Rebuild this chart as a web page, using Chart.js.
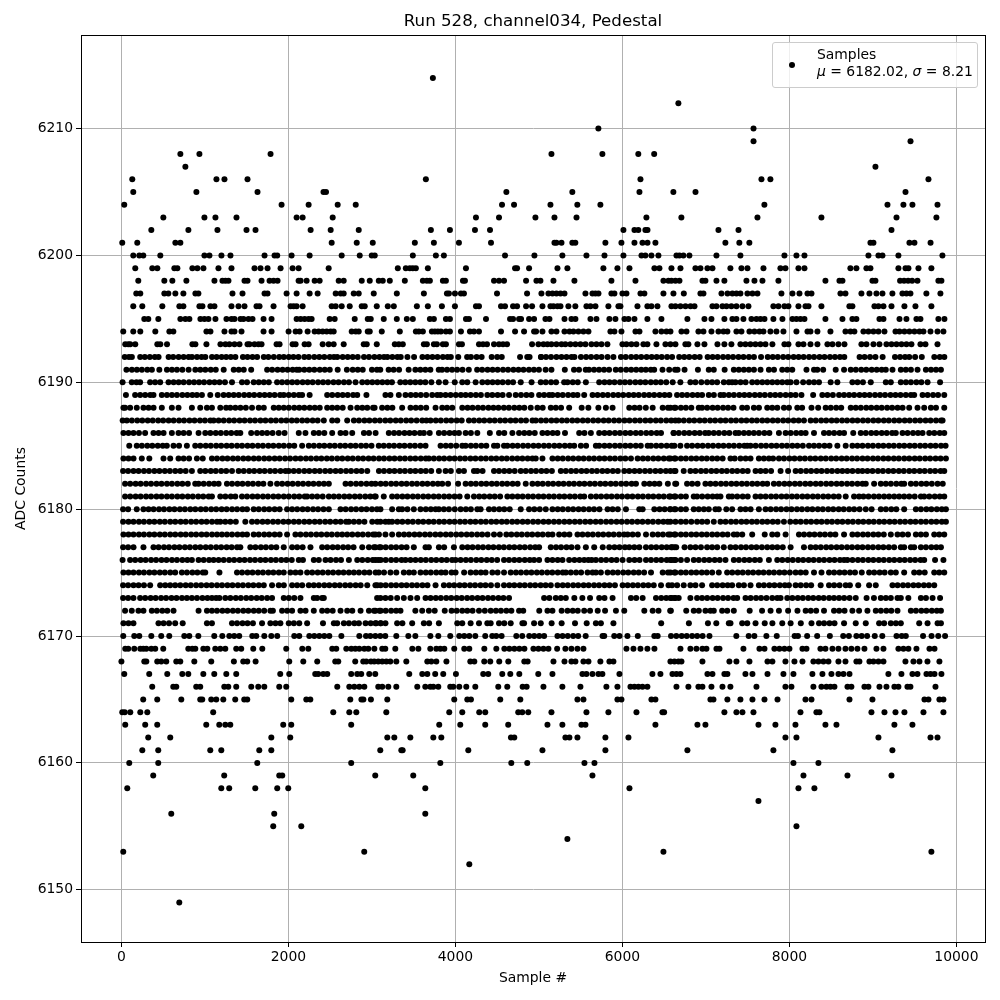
<!DOCTYPE html>
<html>
<head>
<meta charset="utf-8">
<script src="https://cdn.jsdelivr.net/npm/chart.js@4"></script>
<style>
  html, body { margin: 0; padding: 0; background: #fff; }
  #wrap { position: relative; width: 1000px; height: 1000px; }
  #legend {
    position: absolute; left: 772px; top: 42px; width: 206px; height: 46px; box-sizing: border-box;
    background: rgba(255,255,255,0.8); border: 1px solid #ccc; border-radius: 3px;
    font: 13.9px "DejaVu Sans", sans-serif; color: #000; line-height: 17px;
  }
  #legend .dot { position: absolute; left: 16px; top: 19px; width: 6px; height: 6px; border-radius: 50%; background: #000; }
  #legend .txt { position: absolute; left: 44px; top: 3px; white-space: nowrap; }
</style>
</head>
<body>
<div id="wrap">
  <canvas id="chart" width="1000" height="1000"></canvas>
  <div id="legend"><span class="dot"></span><div class="txt">Samples<br><i>μ</i> = 6182.02, <i>σ</i> = 8.21</div></div>
</div>
<script>
const xTicks = [0, 2000, 4000, 6000, 8000, 10000];
const yTicks = [6150, 6160, 6170, 6180, 6190, 6200, 6210];

// sample numbers, one list per ADC level
const r6214 = [3730];
const r6212 = [6670];
const r6210 = [5712, 7570];
const r6209 = [7570, 9450];
const r6208 = [706, 934, 1786, 5150, 5760, 6190, 6380];
const r6207 = [766, 9030];
const r6206 = [130, 1138, 1234, 1510, 3646, 6216, 7665, 7772, 9665];
const r6205 = [142, 898, 1630, 2420, 2450, 4610, 5400, 6204, 6610, 6875, 9390];
const r6204 = [34, 1918, 2242, 2590, 2806, 4558, 4702, 5138, 5460, 5736, 7700, 9174, 9365, 9473, 9773];
const r6203 = [502, 994, 1126, 1378, 2098, 2170, 2530, 4246, 4522, 4958, 5186, 5450, 6287, 6706, 7617, 8383, 9282, 9760];
const r6202 = [358, 802, 1150, 1498, 1606, 2266, 2506, 2842, 3706, 3934, 4234, 4414, 6012, 6144, 6190, 6275, 6300, 7150, 7390, 9222];
const r6201 = [10, 190, 646, 706, 2518, 2818, 3010, 3514, 3742, 4042, 4426, 5186, 5210, 5270, 5400, 5436, 5796, 5988, 6144, 6240, 6300, 6395, 7233, 7400, 7520, 8970, 9006, 9437, 9497, 9690];
const r6200 = [142, 214, 262, 466, 994, 1054, 1198, 1306, 1714, 1834, 1866, 2038, 2254, 2638, 2854, 2998, 3034, 3490, 3766, 3862, 4594, 4946, 5281, 5569, 5785, 6012, 6228, 6275, 6347, 6431, 6647, 6683, 6730, 6802, 7126, 7413, 7940, 8084, 8180, 8946, 9066, 9114, 9305, 9832];
const r6199 = [166, 370, 430, 634, 670, 850, 910, 982, 1162, 1318, 1594, 1666, 1750, 1906, 2050, 2122, 2482, 3310, 3406, 3454, 3490, 3526, 3670, 4126, 4714, 4738, 4882, 5222, 5341, 5772, 5940, 6084, 6383, 6443, 6587, 6695, 6874, 6934, 7018, 7078, 7293, 7425, 7497, 7689, 7892, 7952, 8108, 8180, 8730, 8802, 8922, 8970, 9305, 9390, 9425, 9545, 9700];
const r6198 = [202, 514, 610, 778, 1114, 1210, 1246, 1282, 1474, 1510, 1678, 1774, 1822, 1870, 2122, 2146, 2218, 2314, 2374, 2602, 2662, 2878, 2974, 3082, 3130, 3214, 3394, 3610, 3658, 3694, 3850, 3886, 4090, 4114, 4462, 4522, 4582, 4846, 4970, 5018, 5174, 5425, 5868, 6156, 6491, 6551, 6587, 6635, 6683, 6958, 6994, 7126, 7221, 7485, 7581, 7677, 7868, 8431, 8599, 8635, 8994, 9030, 9325, 9373, 9421, 9469, 9533, 9784, 9820];
const r6197 = [178, 226, 514, 562, 646, 742, 886, 922, 1330, 1450, 1714, 1750, 1978, 2098, 2254, 2350, 2566, 2626, 2662, 2782, 2842, 3022, 3298, 3622, 3898, 3922, 3994, 4066, 4102, 4498, 4858, 5030, 5114, 5162, 5210, 5258, 5306, 5557, 5641, 5677, 5713, 5868, 5904, 6000, 6048, 6216, 6263, 6491, 6611, 6735, 6934, 6970, 7186, 7258, 7317, 7365, 7413, 7497, 7557, 7617, 7904, 8036, 8120, 8216, 8264, 8611, 8671, 8862, 8958, 9042, 9114, 9233, 9353, 9401, 9449, 9640, 9808];
const r6196 = [142, 250, 490, 694, 742, 934, 970, 1066, 1114, 1318, 1402, 1474, 1618, 1654, 1822, 2026, 2062, 2098, 2170, 2518, 2566, 2638, 2734, 2878, 2914, 3058, 3190, 3262, 3538, 3670, 3838, 3994, 4246, 4282, 4546, 4594, 4690, 4738, 4846, 4918, 5042, 5138, 5174, 5222, 5258, 5353, 5436, 5569, 5617, 5677, 5832, 5952, 5976, 6180, 6299, 6347, 6419, 6587, 6635, 6695, 6755, 6815, 6863, 7078, 7126, 7198, 7246, 7305, 7365, 7437, 7509, 7808, 7868, 7940, 7988, 8108, 8192, 8228, 8383, 8718, 8754, 9018, 9066, 9126, 9222, 9377, 9509, 9700];
const r6195 = [274, 322, 442, 706, 766, 814, 946, 994, 1042, 1126, 1258, 1318, 1354, 1426, 1462, 1522, 1570, 1702, 1798, 2098, 2146, 2194, 2242, 2278, 2494, 2554, 2794, 2950, 2986, 3142, 3298, 3418, 3490, 3694, 3742, 3886, 3934, 4126, 4162, 4366, 4654, 4690, 4762, 4786, 4882, 4942, 5078, 5126, 5306, 5389, 5437, 5617, 5689, 5844, 5916, 6024, 6072, 6144, 6299, 6467, 6778, 6982, 7066, 7221, 7317, 7365, 7449, 7545, 7605, 7653, 7701, 7808, 7916, 8036, 8084, 8132, 8180, 8431, 8635, 8754, 8802, 9078, 9126, 9318, 9401, 9521, 9569, 9784, 9856];
const r6194 = [22, 142, 226, 406, 574, 622, 1018, 1066, 1234, 1318, 1354, 1438, 1702, 1798, 2002, 2086, 2134, 2230, 2314, 2362, 2410, 2458, 2506, 2542, 2758, 2806, 2842, 2950, 2974, 3118, 3334, 3526, 3562, 3610, 3718, 3754, 3790, 3826, 3886, 3934, 4066, 4174, 4222, 4282, 4546, 4714, 4822, 4942, 4966, 5042, 5150, 5210, 5306, 5366, 5413, 5473, 5533, 5593, 5856, 5904, 5988, 6156, 6204, 6395, 6467, 6527, 6575, 6707, 6767, 6910, 6970, 7066, 7150, 7210, 7257, 7365, 7425, 7521, 7581, 7641, 7689, 7772, 7844, 7928, 8084, 8216, 8252, 8335, 8491, 8671, 8731, 8778, 8886, 8946, 9006, 9066, 9138, 9270, 9318, 9377, 9437, 9497, 9557, 9605, 9689, 9773, 9844];
const r6193 = [46, 82, 106, 166, 430, 466, 546, 850, 886, 1018, 1186, 1246, 1294, 1354, 1414, 1510, 1534, 1594, 1642, 1678, 1858, 1894, 2050, 2086, 2194, 2242, 2410, 2482, 2542, 2662, 2902, 2938, 3058, 3274, 3322, 3370, 3622, 3658, 3742, 3778, 3850, 3886, 4042, 4078, 4282, 4330, 4378, 4462, 4522, 4570, 4618, 4918, 4994, 5054, 5102, 5150, 5210, 5270, 5317, 5377, 5437, 5497, 5557, 5629, 5689, 5749, 5820, 6000, 6048, 6108, 6168, 6251, 6299, 6407, 6515, 6575, 6635, 6754, 6790, 6898, 6982, 7138, 7221, 7305, 7413, 7473, 7533, 7593, 7653, 7713, 7796, 7940, 7988, 8108, 8168, 8252, 8335, 8455, 8515, 8587, 8659, 8862, 8922, 9006, 9078, 9162, 9222, 9282, 9342, 9401, 9461, 9569, 9629, 9773];
const r6192 = [40, 90, 125, 225, 280, 340, 400, 445, 565, 620, 685, 745, 805, 845, 905, 960, 1005, 1085, 1140, 1200, 1255, 1310, 1365, 1455, 1510, 1570, 1625, 1705, 1760, 1825, 1890, 1945, 2005, 2060, 2120, 2190, 2245, 2310, 2370, 2430, 2495, 2545, 2585, 2650, 2710, 2770, 2830, 2905, 2965, 3030, 3090, 3145, 3185, 3245, 3305, 3345, 3425, 3505, 3605, 3665, 3725, 3785, 3850, 3905, 3945, 4034, 4140, 4186, 4254, 4314, 4434, 4500, 4555, 4774, 4860, 4888, 5026, 5024, 5085, 5145, 5210, 5270, 5330, 5390, 5425, 5503, 5565, 5625, 5690, 5750, 5822, 5892, 5982, 6040, 6105, 6165, 6225, 6290, 6350, 6410, 6470, 6535, 6595, 6680, 6740, 6800, 6865, 6925, 7020, 7080, 7140, 7205, 7265, 7325, 7390, 7450, 7515, 7575, 7660, 7740, 7800, 7860, 7925, 7985, 8050, 8110, 8170, 8235, 8295, 8360, 8420, 8485, 8545, 8605, 8657, 8840, 8900, 8965, 9030, 9116, 9264, 9325, 9385, 9435, 9505, 9585, 9735, 9800, 9855];
const r6191 = [60, 125, 185, 245, 310, 365, 454, 545, 605, 665, 730, 805, 885, 945, 1005, 1070, 1130, 1225, 1345, 1405, 1465, 1554, 1745, 1805, 1870, 1930, 1990, 2050, 2100, 2130, 2190, 2250, 2310, 2375, 2435, 2495, 2590, 2700, 2770, 2830, 2890, 3000, 3060, 3100, 3200, 3260, 3325, 3440, 3520, 3580, 3640, 3700, 3800, 3840, 3900, 3960, 4020, 4085, 4160, 4260, 4320, 4385, 4445, 4505, 4570, 4630, 4695, 4755, 4815, 4880, 4940, 5000, 5080, 5150, 5310, 5420, 5480, 5560, 5600, 5660, 5720, 5780, 5840, 5920, 5980, 6045, 6105, 6165, 6225, 6280, 6340, 6380, 6480, 6560, 6630, 6660, 6744, 6904, 7034, 7094, 7224, 7334, 7394, 7454, 7514, 7575, 7654, 7754, 7815, 7914, 7974, 8034, 8204, 8294, 8334, 8404, 8554, 8654, 8734, 8795, 8860, 8920, 8985, 9045, 9105, 9154, 9234, 9334, 9394, 9455, 9534, 9634, 9695, 9755, 9814];
const r6190 = [14, 124, 180, 224, 344, 404, 464, 564, 625, 685, 745, 810, 870, 930, 990, 1055, 1115, 1175, 1240, 1324, 1444, 1504, 1584, 1645, 1705, 1765, 1864, 1924, 1985, 2045, 2105, 2170, 2230, 2290, 2355, 2415, 2475, 2540, 2600, 2665, 2725, 2804, 2884, 2945, 3005, 3065, 3125, 3185, 3240, 3340, 3400, 3460, 3520, 3580, 3640, 3712, 3802, 3882, 3992, 4082, 4142, 4242, 4322, 4385, 4445, 4505, 4565, 4630, 4690, 4782, 4912, 5022, 5082, 5145, 5205, 5302, 5342, 5405, 5465, 5562, 5722, 5785, 5845, 5905, 5970, 6030, 6090, 6155, 6215, 6275, 6340, 6400, 6460, 6525, 6602, 6694, 6814, 6874, 6945, 7014, 7074, 7134, 7214, 7274, 7314, 7354, 7415, 7475, 7554, 7614, 7675, 7735, 7795, 7855, 7914, 7974, 8014, 8084, 8164, 8234, 8295, 8354, 8494, 8574, 8754, 8815, 8880, 8974, 9154, 9214, 9334, 9395, 9455, 9520, 9580, 9654, 9804];
const r6189 = [54, 164, 225, 285, 345, 384, 484, 545, 605, 665, 730, 790, 850, 904, 964, 1064, 1154, 1224, 1285, 1345, 1405, 1470, 1530, 1590, 1655, 1715, 1775, 1835, 1900, 1944, 2004, 2065, 2125, 2164, 2254, 2464, 2525, 2590, 2650, 2710, 2775, 2824, 2934, 3162, 3222, 3322, 3402, 3465, 3525, 3585, 3650, 3722, 3782, 3822, 3882, 3942, 4005, 4065, 4122, 4182, 4245, 4305, 4382, 4442, 4505, 4565, 4642, 4722, 4785, 4850, 4910, 5002, 5062, 5122, 5162, 5225, 5285, 5350, 5410, 5462, 5542, 5642, 5702, 5765, 5825, 5890, 5950, 6010, 6075, 6135, 6195, 6260, 6320, 6380, 6445, 6505, 6562, 6654, 6715, 6775, 6840, 6900, 6954, 7034, 7095, 7174, 7214, 7275, 7335, 7400, 7460, 7520, 7585, 7645, 7705, 7770, 7830, 7890, 7955, 8015, 8074, 8144, 8284, 8394, 8455, 8520, 8594, 8654, 8715, 8775, 8840, 8900, 8960, 9025, 9085, 9145, 9210, 9270, 9330, 9394, 9454, 9494, 9594, 9655, 9720, 9780, 9854];
const r6188 = [24, 44, 104, 184, 264, 325, 385, 484, 604, 684, 844, 944, 1024, 1084, 1184, 1254, 1304, 1365, 1425, 1490, 1564, 1644, 1705, 1824, 1884, 1945, 2005, 2070, 2130, 2190, 2255, 2315, 2375, 2464, 2524, 2585, 2650, 2744, 2824, 2885, 2944, 3014, 3032, 3122, 3185, 3245, 3362, 3462, 3525, 3585, 3650, 3762, 3842, 3900, 3962, 4082, 4145, 4205, 4270, 4330, 4395, 4455, 4515, 4580, 4640, 4705, 4765, 4825, 4902, 4982, 5045, 5142, 5202, 5265, 5362, 5512, 5592, 5712, 5802, 5882, 6082, 6145, 6205, 6280, 6362, 6482, 6545, 6622, 6574, 6635, 6700, 6760, 6825, 6914, 6954, 7015, 7080, 7140, 7205, 7265, 7330, 7434, 7492, 7574, 7635, 7734, 7794, 7855, 7934, 7994, 8094, 8152, 8264, 8344, 8434, 8495, 8560, 8620, 8734, 8794, 8855, 8920, 8980, 9045, 9105, 9170, 9230, 9295, 9355, 9434, 9534, 9614, 9694, 9755, 9854];
const r6187 = [15, 65, 125, 190, 250, 315, 375, 440, 500, 565, 625, 690, 750, 815, 875, 940, 1000, 1065, 1104, 1164, 1225, 1290, 1350, 1415, 1475, 1540, 1600, 1665, 1725, 1790, 1850, 1915, 1975, 2040, 2100, 2165, 2225, 2290, 2350, 2424, 2524, 2585, 2704, 2784, 2845, 2910, 2970, 3035, 3095, 3160, 3220, 3285, 3345, 3410, 3470, 3535, 3602, 3652, 3702, 3765, 3825, 3890, 3950, 4015, 4075, 4162, 4222, 4285, 4345, 4410, 4470, 4535, 4595, 4660, 4720, 4785, 4845, 4922, 4962, 5025, 5085, 5150, 5210, 5275, 5335, 5400, 5460, 5525, 5585, 5650, 5710, 5775, 5835, 5900, 5960, 6025, 6085, 6150, 6210, 6275, 6335, 6400, 6460, 6525, 6585, 6634, 6674, 6735, 6800, 6860, 6925, 6985, 7050, 7110, 7175, 7235, 7300, 7360, 7425, 7485, 7550, 7610, 7675, 7735, 7800, 7860, 7925, 7985, 8050, 8110, 8174, 8254, 8315, 8380, 8440, 8505, 8565, 8630, 8690, 8755, 8815, 8880, 8940, 9005, 9065, 9130, 9190, 9255, 9315, 9380, 9440, 9505, 9565, 9630, 9690, 9755, 9815, 9834];
const r6186 = [24, 85, 145, 210, 284, 384, 445, 505, 604, 684, 745, 810, 924, 1004, 1065, 1130, 1190, 1255, 1315, 1380, 1424, 1554, 1624, 1685, 1745, 1810, 1884, 1954, 2124, 2204, 2304, 2365, 2430, 2524, 2624, 2685, 2764, 2904, 2965, 3044, 3202, 3265, 3325, 3390, 3450, 3510, 3575, 3622, 3692, 3802, 3865, 3930, 3990, 4042, 4122, 4185, 4262, 4412, 4522, 4585, 4682, 4762, 4825, 4885, 4950, 5042, 5102, 5165, 5222, 5312, 5482, 5545, 5622, 5722, 5785, 5845, 5910, 5970, 6035, 6095, 6160, 6220, 6285, 6345, 6410, 6462, 6612, 6614, 6675, 6740, 6800, 6865, 6925, 6990, 7034, 7094, 7155, 7220, 7280, 7354, 7394, 7455, 7514, 7574, 7635, 7700, 7760, 7874, 7954, 8015, 8080, 8140, 8194, 8294, 8414, 8474, 8535, 8600, 8654, 8764, 8854, 8915, 8980, 9040, 9105, 9165, 9230, 9274, 9354, 9415, 9480, 9540, 9594, 9674, 9735, 9800, 9854];
const r6185 = [94, 184, 245, 310, 370, 435, 495, 544, 624, 690, 784, 884, 945, 1010, 1070, 1135, 1195, 1260, 1320, 1385, 1445, 1510, 1570, 1635, 1695, 1760, 1820, 1885, 1945, 2010, 2070, 2164, 2244, 2305, 2370, 2430, 2495, 2555, 2620, 2680, 2745, 2805, 2870, 2930, 2995, 3082, 3142, 3205, 3265, 3330, 3390, 3455, 3515, 3580, 3642, 3822, 3885, 3945, 4010, 4082, 4122, 4185, 4245, 4310, 4370, 4462, 4502, 4582, 4622, 4685, 4745, 4810, 4870, 4935, 4995, 5060, 5120, 5185, 5245, 5310, 5370, 5422, 5502, 5565, 5682, 5722, 5785, 5845, 5910, 5970, 6035, 6095, 6160, 6220, 6302, 6342, 6405, 6465, 6530, 6590, 6622, 6694, 6774, 6835, 6900, 6960, 7025, 7085, 7150, 7210, 7275, 7335, 7400, 7460, 7494, 7534, 7595, 7660, 7720, 7785, 7845, 7910, 7970, 8035, 8095, 8160, 8234, 8294, 8355, 8420, 8480, 8574, 8674, 8754, 8814, 8875, 8940, 9000, 9065, 9125, 9190, 9250, 9315, 9375, 9440, 9500, 9565, 9625, 9690, 9750, 9815, 9870];
const r6184 = [24, 85, 145, 244, 334, 504, 584, 684, 745, 810, 904, 974, 1084, 1145, 1210, 1270, 1335, 1395, 1460, 1520, 1585, 1645, 1710, 1770, 1835, 1895, 1960, 2020, 2085, 2145, 2210, 2270, 2335, 2395, 2460, 2520, 2585, 2645, 2710, 2770, 2835, 2895, 2960, 3020, 3085, 3145, 3210, 3270, 3335, 3395, 3460, 3520, 3585, 3645, 3682, 3742, 3805, 3865, 3930, 3990, 4055, 4115, 4180, 4240, 4305, 4365, 4430, 4490, 4555, 4615, 4680, 4742, 4802, 4865, 4922, 4962, 5042, 5162, 5225, 5285, 5350, 5410, 5475, 5535, 5600, 5660, 5725, 5785, 5850, 5910, 5975, 6035, 6102, 6182, 6245, 6305, 6370, 6430, 6495, 6555, 6622, 6574, 6635, 6700, 6760, 6825, 6885, 6950, 7010, 7075, 7135, 7200, 7294, 7344, 7414, 7475, 7534, 7634, 7694, 7754, 7804, 7874, 7935, 8000, 8060, 8125, 8185, 8250, 8310, 8375, 8435, 8500, 8560, 8625, 8685, 8750, 8810, 8875, 8935, 9000, 9060, 9125, 9185, 9250, 9310, 9375, 9435, 9500, 9560, 9625, 9685, 9750, 9810, 9874];
const r6183 = [20, 80, 145, 205, 270, 330, 395, 455, 520, 580, 645, 705, 770, 844, 944, 1005, 1070, 1130, 1195, 1255, 1324, 1404, 1465, 1530, 1590, 1655, 1715, 1780, 1840, 1905, 1965, 2004, 2064, 2125, 2190, 2250, 2315, 2375, 2440, 2500, 2565, 2625, 2690, 2750, 2815, 2875, 2944, 3084, 3145, 3210, 3270, 3335, 3395, 3460, 3520, 3585, 3645, 3710, 3802, 3882, 3945, 4042, 4102, 4222, 4262, 4325, 4462, 4522, 4585, 4645, 4710, 4782, 4842, 4905, 4965, 5030, 5090, 5155, 5262, 5322, 5385, 5445, 5510, 5570, 5635, 5695, 5760, 5820, 5885, 5945, 6022, 6082, 6145, 6205, 6270, 6330, 6395, 6455, 6520, 6622, 6574, 6635, 6734, 6814, 6875, 6940, 7000, 7065, 7125, 7190, 7250, 7315, 7375, 7440, 7500, 7594, 7654, 7715, 7780, 7894, 7984, 8074, 8135, 8200, 8260, 8325, 8385, 8450, 8510, 8575, 8634, 8694, 8755, 8820, 8874, 8934, 8995, 9060, 9120, 9185, 9245, 9310, 9370, 9435, 9495, 9560, 9620, 9685, 9745, 9810, 9854];
const r6182 = [44, 105, 170, 230, 295, 355, 420, 480, 545, 605, 670, 730, 795, 884, 924, 985, 1050, 1110, 1164, 1264, 1325, 1390, 1450, 1515, 1575, 1640, 1700, 1784, 1864, 1925, 1990, 2050, 2115, 2175, 2240, 2300, 2365, 2425, 2484, 2684, 2745, 2810, 2870, 2935, 2995, 3042, 3105, 3165, 3230, 3290, 3355, 3415, 3480, 3540, 3605, 3665, 3730, 3790, 3842, 3912, 4032, 4122, 4185, 4245, 4310, 4370, 4435, 4495, 4560, 4620, 4685, 4745, 4842, 4922, 4985, 5045, 5110, 5170, 5235, 5295, 5360, 5420, 5485, 5545, 5610, 5670, 5735, 5795, 5860, 5920, 5985, 6045, 6110, 6162, 6262, 6325, 6385, 6442, 6544, 6632, 6644, 6774, 6835, 6900, 6994, 7054, 7115, 7180, 7240, 7305, 7365, 7430, 7490, 7555, 7615, 7680, 7734, 7814, 7875, 7940, 8000, 8065, 8125, 8190, 8250, 8315, 8375, 8440, 8500, 8565, 8625, 8690, 8750, 8815, 8875, 8914, 9014, 9094, 9154, 9215, 9280, 9340, 9374, 9454, 9515, 9580, 9640, 9705, 9774, 9836];
const r6181 = [44, 105, 170, 230, 295, 355, 420, 480, 545, 605, 670, 730, 795, 855, 920, 980, 1045, 1084, 1184, 1245, 1310, 1364, 1444, 1505, 1570, 1630, 1695, 1755, 1820, 1880, 1945, 2005, 2070, 2130, 2195, 2224, 2284, 2345, 2410, 2484, 2544, 2605, 2670, 2730, 2795, 2855, 2920, 2980, 3045, 3032, 3142, 3242, 3302, 3365, 3425, 3490, 3550, 3615, 3675, 3740, 3800, 3865, 3925, 3990, 4050, 4142, 4222, 4285, 4345, 4410, 4470, 4535, 4622, 4682, 4745, 4805, 4870, 4930, 4995, 5055, 5120, 5180, 5245, 5305, 5370, 5430, 5495, 5542, 5622, 5685, 5745, 5810, 5870, 5935, 5995, 6060, 6120, 6185, 6245, 6310, 6370, 6435, 6495, 6560, 6622, 6574, 6635, 6700, 6760, 6854, 6894, 6955, 7020, 7080, 7134, 7174, 7274, 7314, 7375, 7440, 7500, 7594, 7654, 7715, 7780, 7840, 7905, 7965, 8030, 8090, 8155, 8215, 8280, 8340, 8405, 8465, 8530, 8590, 8674, 8774, 8834, 8886, 8947, 9012, 9072, 9134, 9194, 9255, 9314, 9374, 9435, 9500, 9574, 9614, 9675, 9740, 9800, 9854];
const r6180 = [20, 80, 184, 264, 325, 385, 450, 510, 575, 635, 700, 760, 825, 885, 950, 1010, 1075, 1135, 1200, 1260, 1325, 1385, 1450, 1504, 1584, 1645, 1710, 1770, 1835, 1895, 1984, 2044, 2105, 2170, 2230, 2295, 2355, 2420, 2484, 2624, 2685, 2750, 2810, 2875, 2935, 3000, 3060, 3102, 3242, 3322, 3362, 3425, 3502, 3582, 3645, 3705, 3762, 3802, 3862, 3922, 3992, 4062, 4125, 4185, 4262, 4302, 4402, 4462, 4525, 4585, 4650, 4782, 4882, 4945, 5010, 5082, 5162, 5225, 5285, 5350, 5410, 5475, 5535, 5600, 5660, 5725, 5822, 5882, 5945, 6042, 6202, 6242, 6382, 6445, 6505, 6570, 6622, 6574, 6635, 6700, 6760, 6854, 6914, 6975, 7034, 7114, 7154, 7244, 7314, 7414, 7474, 7535, 7634, 7714, 7775, 7840, 7900, 7965, 8025, 8090, 8150, 8215, 8275, 8340, 8400, 8465, 8525, 8590, 8650, 8715, 8775, 8840, 8914, 8984, 9094, 9155, 9220, 9280, 9374, 9514, 9575, 9640, 9700, 9765, 9825, 9874];
const r6179 = [20, 85, 145, 210, 270, 335, 395, 460, 520, 585, 645, 710, 770, 835, 895, 960, 1020, 1085, 1145, 1184, 1244, 1305, 1370, 1484, 1564, 1625, 1690, 1750, 1815, 1875, 1940, 2000, 2065, 2125, 2190, 2250, 2315, 2375, 2440, 2500, 2565, 2625, 2690, 2724, 2784, 2845, 2910, 3004, 3064, 3102, 3162, 3202, 3242, 3305, 3365, 3430, 3490, 3555, 3615, 3680, 3740, 3805, 3865, 3930, 3990, 4055, 4115, 4180, 4240, 4305, 4365, 4430, 4490, 4555, 4615, 4680, 4740, 4805, 4865, 4930, 4990, 5055, 5115, 5180, 5240, 5305, 5365, 5430, 5490, 5555, 5615, 5680, 5740, 5805, 5865, 5930, 5990, 6055, 6115, 6180, 6240, 6305, 6365, 6430, 6490, 6542, 6574, 6635, 6700, 6760, 6825, 6894, 6954, 7015, 7094, 7174, 7235, 7300, 7360, 7425, 7485, 7550, 7610, 7675, 7735, 7800, 7860, 7934, 8010, 8075, 8135, 8200, 8260, 8325, 8385, 8450, 8510, 8575, 8635, 8700, 8760, 8825, 8885, 8950, 9010, 9075, 9135, 9200, 9260, 9325, 9385, 9450, 9510, 9575, 9635, 9700, 9760, 9825, 9874];
const r6178 = [24, 85, 145, 210, 270, 335, 395, 460, 520, 585, 645, 710, 770, 835, 895, 960, 1020, 1085, 1145, 1204, 1264, 1325, 1390, 1450, 1504, 1584, 1645, 1710, 1770, 1835, 1895, 1984, 2084, 2145, 2210, 2270, 2335, 2395, 2460, 2520, 2585, 2644, 2704, 2765, 2830, 2890, 2955, 3015, 3084, 3042, 3162, 3242, 3322, 3385, 3445, 3510, 3570, 3635, 3695, 3760, 3820, 3885, 3945, 4010, 4070, 4135, 4195, 4260, 4320, 4385, 4462, 4532, 4610, 4670, 4735, 4795, 4860, 4920, 4985, 5045, 5110, 5162, 5242, 5305, 5365, 5462, 5522, 5585, 5645, 5710, 5770, 5835, 5895, 5960, 6020, 6062, 6122, 6185, 6282, 6362, 6425, 6485, 6550, 6622, 6574, 6635, 6700, 6760, 6825, 6885, 6950, 7010, 7075, 7135, 7200, 7260, 7334, 7374, 7435, 7554, 7704, 7794, 7855, 7954, 8114, 8175, 8240, 8300, 8365, 8425, 8490, 8550, 8654, 8754, 8815, 8880, 8940, 9005, 9065, 9130, 9214, 9294, 9355, 9420, 9514, 9574, 9635, 9734, 9794, 9854];
const r6177 = [20, 80, 145, 264, 384, 445, 510, 570, 635, 695, 760, 820, 885, 945, 1010, 1070, 1135, 1195, 1260, 1320, 1385, 1424, 1544, 1605, 1670, 1730, 1795, 1855, 1944, 2044, 2105, 2170, 2264, 2404, 2465, 2530, 2590, 2655, 2715, 2780, 2884, 2964, 3025, 3090, 3042, 3105, 3165, 3230, 3290, 3355, 3415, 3502, 3642, 3682, 3802, 3865, 3982, 4082, 4145, 4205, 4270, 4330, 4395, 4455, 4520, 4580, 4645, 4705, 4770, 4830, 4895, 4955, 5002, 5142, 5205, 5265, 5330, 5390, 5462, 5562, 5662, 5764, 5842, 5905, 5965, 6030, 6082, 6142, 6202, 6282, 6345, 6405, 6470, 6530, 6595, 6622, 6584, 6644, 6744, 6814, 6875, 6940, 7014, 7074, 7135, 7214, 7294, 7355, 7420, 7480, 7545, 7605, 7670, 7734, 7795, 7855, 7920, 8014, 8174, 8254, 8314, 8375, 8440, 8500, 8565, 8625, 8690, 8750, 8815, 8875, 8940, 9000, 9065, 9125, 9190, 9254, 9334, 9374, 9454, 9494, 9574, 9635, 9700, 9760, 9814];
const r6176 = [14, 104, 165, 230, 290, 355, 415, 480, 540, 605, 665, 730, 790, 844, 924, 985, 1050, 1104, 1164, 1225, 1290, 1350, 1415, 1475, 1540, 1600, 1665, 1725, 1790, 1850, 1915, 1975, 2040, 2124, 2174, 2304, 2364, 2444, 2505, 2570, 2630, 2724, 2824, 2885, 2950, 3010, 3075, 3042, 3105, 3165, 3230, 3290, 3355, 3402, 3462, 3522, 3585, 3645, 3710, 3770, 3835, 3895, 3960, 4002, 4062, 4125, 4185, 4250, 4310, 4375, 4435, 4500, 4582, 4642, 4705, 4765, 4830, 4890, 4942, 5002, 5102, 5162, 5225, 5282, 5362, 5425, 5485, 5542, 5592, 5632, 5682, 5745, 5805, 5870, 5930, 6002, 6082, 6145, 6205, 6282, 6342, 6405, 6465, 6530, 6590, 6622, 6574, 6635, 6700, 6774, 6854, 6915, 6980, 7040, 7105, 7165, 7234, 7334, 7395, 7460, 7520, 7585, 7645, 7754, 7854, 7915, 7980, 8040, 8105, 8165, 8230, 8290, 8355, 8415, 8480, 8540, 8605, 8654, 8694, 8755, 8820, 8880, 8945, 9005, 9070, 9130, 9195, 9255, 9320, 9380, 9445, 9505, 9570, 9614, 9744, 9844];
const r6175 = [24, 85, 145, 210, 270, 335, 395, 460, 520, 585, 644, 724, 785, 850, 910, 975, 1004, 1174, 1384, 1445, 1510, 1570, 1635, 1695, 1760, 1820, 1885, 1944, 2024, 2085, 2144, 2224, 2285, 2350, 2410, 2475, 2535, 2600, 2660, 2724, 2784, 2845, 2910, 2970, 3044, 3082, 3145, 3222, 3292, 3382, 3445, 3502, 3582, 3645, 3705, 3770, 3830, 3882, 3954, 4002, 4104, 4182, 4245, 4305, 4362, 4442, 4505, 4582, 4662, 4725, 4785, 4850, 4910, 4975, 5035, 5100, 5160, 5225, 5285, 5322, 5382, 5445, 5505, 5582, 5642, 5682, 5742, 5822, 5885, 5945, 6010, 6070, 6135, 6195, 6260, 6342, 6482, 6545, 6622, 6574, 6635, 6700, 6760, 6825, 6885, 6950, 7010, 7075, 7154, 7254, 7315, 7380, 7440, 7505, 7565, 7630, 7690, 7755, 7815, 7880, 7940, 8005, 8074, 8134, 8195, 8294, 8384, 8474, 8535, 8600, 8660, 8725, 8785, 8866, 8954, 9015, 9080, 9140, 9214, 9274, 9374, 9494, 9555, 9620, 9734, 9794, 9854];
const r6174 = [20, 80, 145, 205, 270, 344, 464, 525, 584, 644, 705, 770, 830, 895, 955, 1020, 1080, 1145, 1205, 1270, 1330, 1395, 1455, 1520, 1580, 1645, 1705, 1804, 1884, 1945, 2044, 2104, 2165, 2244, 2304, 2365, 2430, 2490, 2555, 2615, 2680, 2740, 2805, 2865, 2944, 3064, 3042, 3105, 3165, 3230, 3290, 3355, 3415, 3480, 3540, 3605, 3665, 3762, 3862, 3925, 3985, 4050, 4110, 4175, 4235, 4300, 4360, 4425, 4502, 4582, 4645, 4705, 4770, 4830, 4895, 4955, 5020, 5080, 5142, 5222, 5285, 5345, 5410, 5470, 5535, 5595, 5660, 5720, 5785, 5845, 5910, 6002, 6062, 6125, 6185, 6250, 6310, 6375, 6462, 6552, 6594, 6655, 6734, 6814, 6875, 6954, 7074, 7135, 7200, 7260, 7314, 7394, 7455, 7534, 7634, 7695, 7760, 7820, 7885, 7945, 7994, 8074, 8135, 8200, 8260, 8374, 8474, 8535, 8600, 8674, 8724, 8824, 8954, 9034, 9234, 9295, 9360, 9420, 9485, 9545, 9610, 9670, 9734];
const r6173 = [20, 80, 144, 224, 285, 350, 410, 475, 535, 600, 660, 725, 784, 844, 905, 970, 1030, 1084, 1134, 1174, 1244, 1305, 1370, 1430, 1495, 1555, 1620, 1680, 1745, 1804, 1944, 2005, 2070, 2144, 2304, 2344, 2404, 2424, 3062, 3102, 3162, 3225, 3302, 3382, 3462, 3542, 3642, 3702, 3765, 3825, 3890, 3950, 4015, 4075, 4140, 4200, 4265, 4325, 4390, 4450, 4515, 4575, 4642, 5062, 5125, 5202, 5262, 5322, 5424, 5520, 5612, 5722, 5785, 5882, 6102, 6165, 6242, 6402, 6465, 6525, 6590, 6622, 6574, 6635, 6674, 6814, 6894, 6954, 7015, 7080, 7140, 7205, 7265, 7330, 7374, 7474, 7535, 7600, 7660, 7725, 7794, 7854, 7894, 7974, 8035, 8100, 8160, 8225, 8285, 8350, 8410, 8475, 8534, 8594, 8655, 8720, 8794, 8924, 9012, 9094, 9155, 9214, 9294, 9334, 9424, 9574, 9635, 9714, 9804];
const r6172 = [44, 124, 204, 264, 364, 425, 490, 550, 624, 924, 1024, 1084, 1145, 1210, 1270, 1335, 1395, 1460, 1520, 1585, 1645, 1710, 1784, 1814, 1924, 1985, 2044, 2144, 2205, 2304, 2404, 2465, 2530, 2624, 2704, 2765, 2864, 2964, 3025, 3090, 3042, 3105, 3165, 3230, 3290, 3342, 3520, 3602, 3682, 3752, 3872, 3954, 4015, 4082, 4142, 4205, 4282, 4352, 4422, 4485, 4545, 4610, 4670, 4762, 4812, 5004, 5102, 5162, 5272, 5342, 5405, 5465, 5542, 5612, 5704, 5792, 5922, 6022, 6262, 6362, 6432, 6572, 6580, 6764, 6854, 6915, 6994, 7054, 7094, 7194, 7255, 7334, 7524, 7672, 7774, 7874, 7984, 8096, 8194, 8255, 8320, 8414, 8534, 8595, 8660, 8754, 8834, 8934, 9034, 9095, 9160, 9220, 9294, 9454, 9515, 9580, 9640, 9705, 9765, 9814];
const r6171 = [24, 85, 144, 444, 505, 570, 644, 734, 1024, 1084, 1324, 1385, 1450, 1510, 1575, 1684, 1784, 1845, 1904, 2004, 2065, 2130, 2224, 2414, 2544, 2584, 2664, 2725, 2790, 2844, 2924, 2985, 3050, 3104, 3042, 3105, 3162, 3302, 3365, 3482, 3622, 3685, 3802, 4022, 4082, 4182, 4282, 4382, 4422, 4522, 4585, 4662, 4802, 4822, 4942, 5022, 5152, 5272, 5432, 5572, 5682, 5742, 5892, 6464, 6796, 7024, 7124, 7274, 7294, 7434, 7495, 7594, 7704, 7796, 7914, 8014, 8136, 8264, 8354, 8415, 8480, 8540, 8654, 8794, 8914, 9074, 9134, 9214, 9275, 9334, 9554, 9654, 9774, 9814];
const r6170 = [22, 154, 214, 358, 477, 573, 753, 813, 921, 1112, 1208, 1292, 1351, 1411, 1567, 1615, 1711, 1795, 1866, 2070, 2130, 2250, 2310, 2370, 2430, 2490, 2634, 2849, 2929, 2981, 3041, 3100, 3160, 3292, 3436, 3520, 3700, 3795, 3938, 4046, 4106, 4166, 4238, 4357, 4441, 4489, 4553, 4729, 4800, 4884, 4944, 5004, 5062, 5222, 5283, 5345, 5410, 5470, 5560, 5762, 5782, 5902, 5965, 6060, 6184, 6382, 6422, 6582, 6645, 6710, 6770, 6835, 6895, 6960, 7042, 7364, 7512, 7580, 7724, 7848, 8062, 8102, 8212, 8332, 8484, 8644, 8712, 8802, 8865, 8930, 9022, 9112, 9282, 9345, 9394, 9600, 9702, 9782, 9864];
const r6169 = [46, 82, 154, 226, 262, 298, 358, 405, 501, 801, 849, 885, 981, 1029, 1124, 1184, 1244, 1375, 1435, 1579, 1687, 1974, 2166, 2238, 2525, 2573, 2693, 2753, 2801, 2849, 2909, 2957, 3029, 3124, 3160, 3280, 3484, 3556, 3699, 3771, 3819, 3867, 3986, 4106, 4166, 4346, 4490, 4586, 4646, 4706, 4766, 4826, 4934, 4994, 5054, 5114, 5218, 5317, 5389, 5461, 5533, 6048, 6132, 6216, 6299, 6383, 6695, 6814, 6886, 6958, 7006, 7126, 7162, 7449, 7641, 7701, 7820, 7880, 7940, 8000, 8156, 8204, 8371, 8431, 8515, 8587, 8671, 8742, 8814, 8898, 9042, 9126, 9305, 9365, 9425, 9521, 9677, 9737];
const r6168 = [0, 274, 298, 429, 477, 537, 657, 705, 873, 1076, 1347, 1459, 1507, 1607, 2010, 2178, 2345, 2561, 2597, 2800, 2896, 2932, 2988, 3028, 3076, 3124, 3172, 3220, 3292, 3412, 3663, 3711, 3771, 3892, 4178, 4226, 4345, 4417, 4525, 4633, 4825, 4865, 5174, 5306, 5389, 5437, 5533, 5593, 5736, 5844, 5892, 6575, 6623, 6671, 6707, 6958, 7281, 7365, 7521, 7737, 7796, 7952, 8060, 8156, 8287, 8347, 8407, 8467, 8587, 8671, 8802, 8838, 8958, 9006, 9066, 9126, 9389, 9485, 9557, 9653, 9796];
const r6167 = [34, 333, 549, 729, 801, 981, 1112, 1256, 1375, 1902, 2010, 2321, 2357, 2417, 2465, 2752, 2824, 2872, 2968, 3040, 3447, 3603, 3663, 3758, 3854, 4006, 4333, 4393, 4561, 4657, 4765, 4992, 5162, 5521, 5569, 5641, 5713, 5760, 5964, 6359, 6455, 6599, 6647, 6695, 7018, 7078, 7221, 7257, 7473, 7557, 7737, 7928, 8048, 8275, 8395, 8503, 8587, 8647, 8719, 9185, 9341, 9473, 9533, 9641, 9689, 9737, 9820];
const r6166 = [369, 621, 657, 896, 944, 1232, 1280, 1375, 1555, 1639, 1711, 1890, 1974, 2585, 2729, 2789, 2849, 2909, 3076, 3124, 3196, 3292, 3543, 3639, 3699, 3735, 3795, 3938, 3974, 4046, 4130, 4238, 4513, 4621, 4805, 4853, 5054, 5281, 5497, 5808, 5940, 6096, 6144, 6192, 6240, 6299, 6647, 6790, 6910, 6958, 7066, 7198, 7293, 7605, 7952, 8024, 8287, 8383, 8443, 8491, 8539, 8695, 8742, 8898, 8946, 9078, 9162, 9257, 9305, 9413, 9449, 9749];
const r6165 = [261, 429, 717, 944, 968, 1076, 1136, 1220, 1363, 1471, 1507, 2034, 2214, 2262, 2741, 2874, 2898, 2988, 3184, 3986, 4142, 4186, 4537, 4777, 5461, 5533, 5940, 5988, 6347, 6395, 7054, 7090, 7257, 7413, 7557, 7701, 7857, 8192, 8264, 8719, 8994, 9617, 9665, 9796, 9844];
const r6164 = [10, 40, 106, 226, 310, 1099, 2537, 2729, 2813, 3172, 3926, 4082, 4285, 4357, 4752, 4800, 4872, 5150, 5569, 5832, 6168, 6479, 6499, 7221, 7365, 7437, 7569, 8132, 8323, 8359, 8982, 9138, 9270, 9377, 9605, 9844];
const r6163 = [46, 285, 429, 1016, 1172, 1244, 1304, 1938, 2034, 2752, 3806, 4058, 4357, 4632, 5102, 5281, 5509, 5557, 6395, 6898, 6994, 7629, 7832, 8072, 8431, 8563, 9257, 9473];
const r6162 = [321, 585, 1795, 2022, 3184, 3268, 3460, 3735, 3831, 4665, 4705, 5317, 5365, 5461, 5796, 6072, 7952, 8084, 9066, 9689, 9773];
const r6161 = [250, 441, 1064, 1196, 1651, 1795, 3100, 3352, 3368, 4154, 5042, 5796, 6778, 7808, 9233];
const r6160 = [94, 441, 1627, 2752, 3819, 4669, 4860, 5545, 5665, 8048, 8347];
const r6159 = [381, 1231, 1890, 1926, 3040, 3495, 5641, 8168, 8695, 9222];
const r6158 = [70, 1196, 1291, 1603, 1866, 1998, 3639, 6084, 8108, 8299];
const r6157 = [7629];
const r6156 = [597, 1830, 3639];
const r6155 = [1818, 2154, 8084];
const r6154 = [5341];
const r6153 = [22, 2908, 6491, 9700];
const r6152 = [4166];
const r6149 = [693];

const levels = [6214, 6212, 6210, 6209, 6208, 6207, 6206, 6205, 6204, 6203, 6202, 6201, 6200, 6199, 6198, 6197, 6196, 6195, 6194, 6193, 6192, 6191, 6190, 6189, 6188, 6187, 6186, 6185, 6184, 6183, 6182, 6181, 6180, 6179, 6178, 6177, 6176, 6175, 6174, 6173, 6172, 6171, 6170, 6169, 6168, 6167, 6166, 6165, 6164, 6163, 6162, 6161, 6160, 6159, 6158, 6157, 6156, 6155, 6154, 6153, 6152, 6149];
const rows = [r6214, r6212, r6210, r6209, r6208, r6207, r6206, r6205, r6204, r6203, r6202, r6201, r6200, r6199, r6198, r6197, r6196, r6195, r6194, r6193, r6192, r6191, r6190, r6189, r6188, r6187, r6186, r6185, r6184, r6183, r6182, r6181, r6180, r6179, r6178, r6177, r6176, r6175, r6174, r6173, r6172, r6171, r6170, r6169, r6168, r6167, r6166, r6165, r6164, r6163, r6162, r6161, r6160, r6159, r6158, r6157, r6156, r6155, r6154, r6153, r6152, r6149];

const points = rows.flatMap((xs, i) => xs.map(x => ({ x: x, y: levels[i] })));

// top and right spines
const frame = {
    id: 'frame',
    afterDraw(chart) {
        const { ctx, chartArea: a } = chart;
        ctx.save();
        ctx.strokeStyle = '#000';
        ctx.lineWidth = 1;
        ctx.strokeRect(a.left + 0.5, a.top + 0.5, a.right - a.left, a.bottom - a.top);
        ctx.restore();
    }
};

new Chart(document.getElementById('chart'), {
    type: 'scatter',
    data: { datasets: [{ label: 'Samples', data: points, backgroundColor: '#000', borderWidth: 0, pointRadius: 3 }] },
    plugins: [frame],
    options: {
        responsive: false,
        animation: false,
        layout: { padding: { right: 15, top: 0, left: 0, bottom: 0 } },
        plugins: {
            legend: { display: false },
            tooltip: { enabled: false },
            title: {
                display: true, text: 'Run 528, channel034, Pedestal', color: '#000', fullSize: false,
                font: { family: 'DejaVu Sans', size: 16.67, weight: 'normal', lineHeight: 1.2 },
                padding: { top: 12, bottom: 3 }
            }
        },
        scales: {
            x: {
                type: 'linear', min: -484, max: 10342,
                afterBuildTicks: s => { s.ticks = xTicks.map(v => ({ value: v })); },
                afterFit: s => { s.height = 58; },
                grid: { color: '#b0b0b0', lineWidth: 1, tickColor: '#000', tickLength: 5 },
                border: { color: '#000' },
                ticks: { color: '#000', font: { family: 'DejaVu Sans', size: 13.9 }, maxRotation: 0, padding: 2, callback: v => String(v) },
                title: { display: true, text: 'Sample #', color: '#000', font: { family: 'DejaVu Sans', size: 13.9 }, padding: { top: 4, bottom: 13 } }
            },
            y: {
                type: 'linear', min: 6145.88, max: 6217.38,
                afterBuildTicks: s => { s.ticks = yTicks.map(v => ({ value: v })); },
                afterFit: s => { s.width = 81; },
                grid: { color: '#b0b0b0', lineWidth: 1, tickColor: '#000', tickLength: 5 },
                border: { color: '#000' },
                ticks: { color: '#000', font: { family: 'DejaVu Sans', size: 13.9 }, padding: 3, callback: v => String(v) },
                title: { display: true, text: 'ADC Counts', color: '#000', font: { family: 'DejaVu Sans', size: 13.9 }, padding: { top: 13, bottom: 4 } }
            }
        }
    }
});
</script>
</body>
</html>
